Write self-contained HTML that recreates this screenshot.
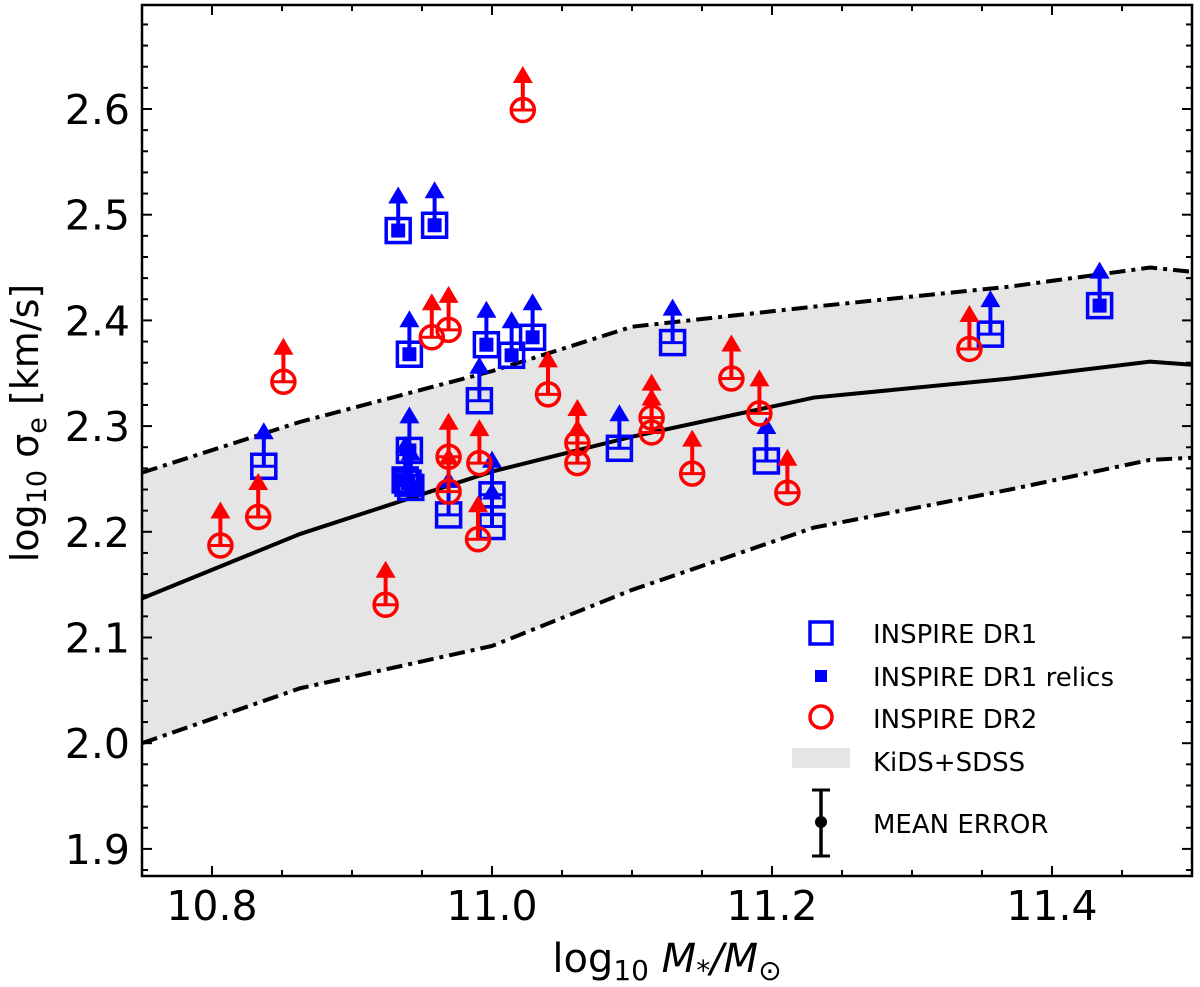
<!DOCTYPE html>
<html><head><meta charset="utf-8"><style>
html,body{margin:0;padding:0;background:#fff}
svg{display:block}
text{font-family:"DejaVu Sans","Liberation Sans",sans-serif;fill:#000}
</style></head><body>
<svg id="chart" width="1200" height="987" viewBox="0 0 1200 987" xmlns="http://www.w3.org/2000/svg">
<g id="band"></g>
<g id="lines"></g>
<g id="dr1"></g>
<g id="relics"></g>
<g id="dr2"></g>
<rect x="142" y="5" width="1050" height="871" fill="none" stroke="#000" stroke-width="2.5"/>
<g id="ticks"></g>
<text x="667" y="972" font-size="40" text-anchor="middle">log<tspan font-size="28" dy="8">10</tspan><tspan dy="-8" font-style="italic"> M</tspan><tspan font-size="28" dy="8">*</tspan><tspan dy="-8" font-style="italic">/M</tspan><tspan font-size="28" dy="8">⊙</tspan></text>
<text transform="translate(38,423) rotate(-90)" font-size="38" text-anchor="middle">log<tspan font-size="27" dy="8">10</tspan><tspan dy="-8"> σ</tspan><tspan font-size="27" dy="8">e</tspan><tspan dy="-8"> [km/s]</tspan></text>
<g>
 <g><rect x="810" y="622" width="22" height="22" fill="none" stroke="#0000ff" stroke-width="3.5"/><text x="873" y="643" font-size="26">INSPIRE DR1</text></g>
 <g><rect x="815" y="670" width="12" height="12" fill="#0000ff"/><text x="873" y="686" font-size="26">INSPIRE DR1 relics</text></g>
 <g><circle cx="821" cy="717" r="11" fill="none" stroke="#ff0000" stroke-width="3.5"/><text x="873" y="728" font-size="26">INSPIRE DR2</text></g>
 <g><rect x="792" y="748" width="58" height="20" fill="#e5e5e5"/><text x="873" y="771" font-size="26">KiDS+SDSS</text></g>
 <g><line x1="821" y1="790" x2="821" y2="856" stroke="#000" stroke-width="3.5"/><line x1="812" y1="790" x2="830" y2="790" stroke="#000" stroke-width="3"/><line x1="812" y1="856" x2="830" y2="856" stroke="#000" stroke-width="3"/><circle cx="821" cy="822" r="6" fill="#000"/><text x="873" y="833" font-size="26">MEAN ERROR</text></g>
</g>
</svg>
<script>
const bandX = [10.75, 10.863, 11.0, 11.1, 11.23, 11.37, 11.47, 11.5];
const medianY = [2.137, 2.198, 2.257, 2.290, 2.327, 2.345, 2.361, 2.358];
const upperY = [2.256, 2.304, 2.352, 2.394, 2.413, 2.432, 2.450, 2.446];
const lowerY = [2.000, 2.052, 2.092, 2.145, 2.204, 2.240, 2.268, 2.270];
const dr1X = [10.837, 10.969, 10.991, 11.000, 11.000, 11.129, 11.091, 11.196, 11.356];
const dr1Y = [2.262, 2.216, 2.324, 2.205, 2.235, 2.379, 2.279, 2.267, 2.387];
const relicX = [10.933, 10.959, 10.941, 10.996, 11.014, 11.029, 10.941, 10.940, 10.942, 10.938, 11.434];
const relicY = [2.485, 2.490, 2.368, 2.377, 2.367, 2.384, 2.277, 2.246, 2.242, 2.249, 2.414];
const dr2X = [10.806, 10.833, 10.851, 10.924, 10.957, 10.969, 10.969, 10.969, 10.991, 10.990, 11.040, 11.061, 11.061, 11.114, 11.114, 11.143, 11.171, 11.191, 11.211, 11.022, 11.341];
const dr2Y = [2.187, 2.214, 2.342, 2.131, 2.384, 2.391, 2.271, 2.238, 2.265, 2.193, 2.330, 2.284, 2.265, 2.308, 2.294, 2.255, 2.345, 2.312, 2.237, 2.599, 2.373];
const xTicks = [10.8, 11.0, 11.2, 11.4];
const xTickLabels = ["10.8", "11.0", "11.2", "11.4"];
const yTicks = [1.9, 2.0, 2.1, 2.2, 2.3, 2.4, 2.5, 2.6];
const yTickLabels = ["1.9", "2.0", "2.1", "2.2", "2.3", "2.4", "2.5", "2.6"];

const NS = "http://www.w3.org/2000/svg";
const X0 = 142, X1 = 1192, Y0 = 876, Y1 = 5;
const xMin = 10.75, xMax = 11.5;
const sx = v => X0 + (v - xMin) / (xMax - xMin) * (X1 - X0);
const sy = v => 109 + (2.6 - v) * 1057;
function mk(tag, attrs, parent) {
  const e = document.createElementNS(NS, tag);
  for (const k in attrs) e.setAttribute(k, attrs[k]);
  parent.appendChild(e);
  return e;
}
const gBand = document.getElementById('band');
const gLines = document.getElementById('lines');
const up = bandX.map((x, i) => sx(x) + ',' + sy(upperY[i]));
const lo = bandX.map((x, i) => sx(x) + ',' + sy(lowerY[i])).reverse();
const poly = mk('polygon', {points: up.concat(lo).join(' '), fill: '#e5e5e5'}, gBand);


function line(ys, dash, name) {
  const p = mk('polyline', {points: bandX.map((x, i) => sx(x) + ',' + sy(ys[i])).join(' '), fill: 'none', stroke: '#000', 'stroke-width': 4, 'stroke-dasharray': dash}, gLines);
  
  
}
line(medianY, 'none', 'median-line');
line(upperY, '16,6,4,6', 'upper-bound-line');
line(lowerY, '16,6,4,6', 'lower-bound-line');

function arrow(g, cx, cy, col) {
  mk('line', {x1: cx, y1: cy, x2: cx, y2: cy - 28, stroke: col, 'stroke-width': 4}, g);
  mk('polygon', {points: `${cx - 10},${cy - 27} ${cx + 10},${cy - 27} ${cx},${cy - 44}`, fill: col}, g);
}
const gDr1 = document.getElementById('dr1');
dr1X.forEach((x, i) => {
  const cx = sx(x), cy = sy(dr1Y[i]);
  const g = mk('g', {}, gDr1);
  
  
  mk('rect', {x: cx - 12, y: cy - 12, width: 24, height: 24, fill: 'none', stroke: '#0000ff', 'stroke-width': 3.5}, g);
  mk('line', {x1: cx - 12, y1: cy, x2: cx + 12, y2: cy, stroke: '#0000ff', 'stroke-width': 3}, g);
  arrow(g, cx, cy, '#0000ff');
});
const gRel = document.getElementById('relics');
relicX.forEach((x, i) => {
  const cx = sx(x), cy = sy(relicY[i]);
  const g = mk('g', {}, gRel);
  
  
  mk('rect', {x: cx - 12, y: cy - 12, width: 24, height: 24, fill: 'none', stroke: '#0000ff', 'stroke-width': 3.5}, g);
  mk('rect', {x: cx - 7, y: cy - 7, width: 14, height: 14, fill: '#0000ff'}, g);
  arrow(g, cx, cy, '#0000ff');
});
const gDr2 = document.getElementById('dr2');
dr2X.forEach((x, i) => {
  const cx = sx(x), cy = sy(dr2Y[i]);
  const g = mk('g', {}, gDr2);
  
  
  mk('circle', {cx: cx, cy: cy, r: 11.5, fill: 'none', stroke: '#ff0000', 'stroke-width': 3.5}, g);
  mk('line', {x1: cx - 11, y1: cy, x2: cx + 11, y2: cy, stroke: '#ff0000', 'stroke-width': 3}, g);
  arrow(g, cx, cy, '#ff0000');
});

const gT = document.getElementById('ticks');
for (let k = 0; k <= 15; k++) {
  const v = xMin + k * 0.05, x = sx(v);
  const major = Math.abs(v * 10 - Math.round(v * 10)) < 1e-6 && Math.round(v * 10) % 2 === 0;
  const L = major ? 10 : 6;
  mk('line', {x1: x, y1: Y0, x2: x, y2: Y0 - L, stroke: '#000', 'stroke-width': 2}, gT);
  mk('line', {x1: x, y1: Y1, x2: x, y2: Y1 + L, stroke: '#000', 'stroke-width': 2}, gT);
}
for (let k = 0; k <= 50; k++) {
  const v = 1.88 + k * 0.02, y = sy(v);
  if (y < Y1 || y > Y0) continue;
  const major = Math.abs(v * 10 - Math.round(v * 10)) < 1e-6;
  const L = major ? 10 : 6;
  mk('line', {x1: X0, y1: y, x2: X0 + L, y2: y, stroke: '#000', 'stroke-width': 2}, gT);
  mk('line', {x1: X1, y1: y, x2: X1 - L, y2: y, stroke: '#000', 'stroke-width': 2}, gT);
}
xTicks.forEach((v, i) => {
  const t = mk('text', {x: sx(v), y: 920, 'font-size': 41, 'text-anchor': 'middle'}, gT);
  t.textContent = xTickLabels[i];
  
  
});
yTicks.forEach((v, i) => {
  const t = mk('text', {x: 130, y: sy(v) + 15, 'font-size': 41, 'text-anchor': 'end'}, gT);
  t.textContent = yTickLabels[i];
  
  
});
</script>
</body></html>
